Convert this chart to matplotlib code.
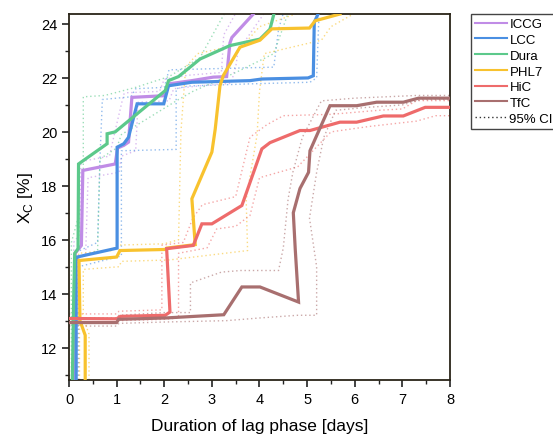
import matplotlib
matplotlib.use("Agg")
import matplotlib.pyplot as plt
from matplotlib.ticker import MultipleLocator
from matplotlib.lines import Line2D

plt.rcParams['font.family'] = ['Liberation Sans', 'DejaVu Sans']

# ---- enzyme curves: lag-phase duration [days] vs crystallinity X_C [%] ----
iccg_x = [0.13, 0.13, 0.26, 0.29, 0.97, 1.02, 1.15, 1.25, 1.32, 1.99, 2.09, 2.58, 3.03, 3.31, 3.38, 3.42, 3.87]
iccg_y = [10.8, 15.5, 15.79, 18.57, 18.81, 19.4, 19.5, 19.62, 21.28, 21.34, 21.78, 21.9, 22.03, 22.05, 23.3, 23.5, 24.37]
iccg_lo_x = [0.18, 0.18, 0.35, 0.40, 1.05, 1.10, 1.40, 1.45, 2.10, 2.20, 2.70, 3.40, 3.50, 3.55, 4.10]
iccg_lo_y = [10.8, 15.2, 15.5, 18.3, 18.5, 19.1, 19.3, 21.1, 21.15, 21.6, 21.7, 21.8, 22.4, 23.0, 24.4]
iccg_hi_x = [0.10, 0.10, 0.22, 0.25, 0.85, 0.95, 1.15, 1.20, 1.90, 2.00, 2.50, 3.20, 3.25, 3.50]
iccg_hi_y = [10.8, 15.9, 16.2, 18.9, 19.1, 19.9, 21.4, 21.45, 21.5, 21.95, 22.1, 22.2, 23.6, 24.4]

lcc_x = [0.15, 0.15, 0.17, 1.01, 1.01, 1.15, 1.25, 1.43, 1.99, 2.09, 2.58, 3.80, 4.05, 5.02, 5.13, 5.15, 5.23]
lcc_y = [10.8, 15.2, 15.36, 15.69, 19.43, 19.56, 19.8, 21.04, 21.04, 21.71, 21.84, 21.9, 21.96, 22.0, 22.08, 24.06, 24.37]
lcc_lo_x = [0.20, 0.20, 1.10, 1.10, 2.25, 2.25, 2.50, 3.80, 5.06, 5.20, 5.25]
lcc_lo_y = [10.8, 15.0, 15.4, 19.3, 19.35, 21.6, 21.7, 21.78, 21.84, 22.0, 24.4]
lcc_hi_x = [0.10, 0.10, 0.60, 0.65, 0.70, 1.30, 1.40, 2.00, 2.10, 4.30, 4.40, 4.50]
lcc_hi_y = [10.8, 15.5, 15.9, 19.0, 21.2, 21.3, 21.6, 21.65, 22.3, 22.4, 23.8, 24.4]

dura_x = [0.07, 0.10, 0.12, 0.19, 0.20, 0.80, 0.80, 0.97, 2.02, 2.09, 2.30, 2.75, 3.38, 4.01, 4.22, 4.33]
dura_y = [10.8, 14.0, 15.5, 15.67, 18.81, 19.56, 19.93, 20.0, 21.53, 21.9, 22.05, 22.7, 23.2, 23.44, 23.81, 24.56]
dura_lo_x = [0.12, 0.12, 0.60, 0.65, 1.00, 1.10, 2.30, 2.60, 3.50, 4.30, 4.60]
dura_lo_y = [10.8, 15.3, 15.6, 19.0, 19.4, 19.9, 21.2, 21.5, 22.2, 22.9, 24.4]
dura_hi_x = [0.05, 0.05, 0.30, 0.30, 0.75, 1.40, 2.10, 2.75, 3.30]
dura_hi_y = [10.8, 15.9, 17.5, 21.3, 21.35, 21.65, 22.05, 22.75, 24.5]

phl7_x = [0.34, 0.34, 0.23, 0.21, 1.00, 1.07, 2.02, 2.05, 2.65, 2.58, 3.00, 3.07, 3.17, 3.24, 3.59, 4.01, 4.26, 5.05, 5.17, 5.69]
phl7_y = [10.8, 12.46, 13.0, 15.23, 15.36, 15.6, 15.64, 15.69, 15.82, 17.52, 19.25, 20.1, 21.71, 22.09, 23.14, 23.4, 23.82, 23.85, 24.12, 24.37]
phl7_lo_x = [0.42, 0.42, 0.30, 0.30, 1.05, 1.10, 2.10, 3.75, 3.72, 3.95, 4.00, 4.10, 5.30, 5.50, 6.00]
phl7_lo_y = [10.8, 12.5, 13.1, 14.9, 15.0, 15.2, 15.25, 15.6, 17.5, 19.9, 21.5, 22.9, 23.4, 23.9, 24.4]
phl7_hi_x = [0.22, 0.22, 0.20, 0.90, 1.00, 2.00, 2.30, 2.35, 2.45, 2.70, 3.70, 4.00, 4.80]
phl7_hi_y = [10.8, 13.0, 15.5, 15.6, 15.8, 15.85, 16.0, 20.0, 22.4, 22.9, 23.3, 23.9, 24.4]

hic_x = [0.02, 1.00, 1.08, 2.02, 2.12, 2.05, 2.61, 2.79, 3.00, 3.63, 4.05, 4.22, 4.85, 5.06, 5.69, 6.04, 6.60, 7.02, 7.48, 8.00]
hic_y = [13.08, 13.07, 13.16, 13.2, 13.32, 15.67, 15.79, 16.59, 16.59, 17.27, 19.37, 19.6, 20.05, 20.05, 20.36, 20.36, 20.59, 20.59, 20.91, 20.91]
hic_lo_x = [0.0, 1.0, 1.05, 2.0, 2.3, 2.3, 2.9, 3.1, 3.5, 3.8, 4.0, 4.8, 5.5, 6.3, 7.3, 7.7, 8.0]
hic_lo_y = [12.9, 12.9, 13.0, 13.05, 13.1, 15.5, 15.7, 16.4, 16.5, 16.9, 18.3, 18.7, 20.0, 20.2, 20.4, 20.6, 20.6]
hic_hi_x = [0.0, 1.0, 1.05, 1.95, 1.95, 2.4, 2.6, 2.8, 3.5, 3.8, 4.15, 4.5, 5.5, 6.5, 7.0, 7.3, 8.0]
hic_hi_y = [13.25, 13.25, 13.35, 13.4, 15.8, 15.9, 16.8, 17.3, 17.6, 19.8, 20.26, 20.6, 20.65, 20.8, 20.85, 21.16, 21.16]

tfc_x = [0.02, 1.00, 1.04, 2.02, 3.25, 3.63, 4.01, 4.82, 4.75, 4.71, 4.85, 5.03, 5.06, 5.20, 5.48, 6.04, 6.46, 7.02, 7.34, 8.00]
tfc_y = [12.93, 12.93, 13.05, 13.1, 13.22, 14.25, 14.25, 13.69, 15.67, 17.0, 17.9, 18.5, 19.3, 19.86, 20.97, 20.97, 21.1, 21.1, 21.25, 21.25]
tfc_lo_x = [0.0, 1.0, 1.05, 2.0, 3.3, 4.0, 4.8, 5.2, 5.2, 5.05, 5.2, 5.35, 5.6, 6.2, 7.0, 7.4, 8.0]
tfc_lo_y = [12.8, 12.8, 12.9, 12.95, 13.0, 13.1, 13.2, 13.2, 15.0, 16.8, 18.5, 19.8, 20.8, 20.9, 21.0, 21.2, 21.2]
tfc_hi_x = [0.0, 1.0, 1.05, 2.0, 2.55, 2.55, 3.2, 3.6, 4.4, 4.5, 4.6, 4.7, 4.9, 5.3, 6.0, 7.3, 8.0]
tfc_hi_y = [13.1, 13.1, 13.2, 13.3, 13.3, 14.4, 14.8, 14.86, 14.86, 15.7, 17.5, 18.5, 19.8, 21.15, 21.25, 21.35, 21.35]

names = ["ICCG", "LCC", "Dura", "PHL7", "HiC", "TfC"]
colors = ["#C08CE6", "#4A8FE2", "#5CC98B", "#F8C22E", "#EE6B6B", "#A86F6F"]
series = [
    (iccg_x, iccg_y, iccg_lo_x, iccg_lo_y, iccg_hi_x, iccg_hi_y),
    (lcc_x, lcc_y, lcc_lo_x, lcc_lo_y, lcc_hi_x, lcc_hi_y),
    (dura_x, dura_y, dura_lo_x, dura_lo_y, dura_hi_x, dura_hi_y),
    (phl7_x, phl7_y, phl7_lo_x, phl7_lo_y, phl7_hi_x, phl7_hi_y),
    (hic_x, hic_y, hic_lo_x, hic_lo_y, hic_hi_x, hic_hi_y),
    (tfc_x, tfc_y, tfc_lo_x, tfc_lo_y, tfc_hi_x, tfc_hi_y),
]

fig = plt.figure(figsize=(5.53, 4.39), dpi=100)
ax = fig.add_axes([0.1248, 0.1321, 0.6889, 0.8337])

# confidence bands first, so the mean curves sit on top
for (x, y, lx, ly, hx, hy), c in zip(series, colors):
    ax.plot(lx, ly, ls=(0, (1, 2)), lw=1.0, color=c, alpha=0.6, zorder=2)
    ax.plot(hx, hy, ls=(0, (1, 2)), lw=1.0, color=c, alpha=0.6, zorder=2)
for (x, y, *_), c, n in zip(series, colors, names):
    ax.plot(x, y, lw=2.3, color=c, label=n, zorder=3, solid_joinstyle='miter')

ax.set_xlim(0, 8)
ax.set_ylim(10.8, 24.37)
ax.xaxis.set_major_locator(MultipleLocator(1))
ax.xaxis.set_minor_locator(MultipleLocator(0.5))
ax.yaxis.set_major_locator(MultipleLocator(2))
ax.yaxis.set_minor_locator(MultipleLocator(1))
ax.tick_params(which='major', direction='out', length=5, width=1.2, labelsize=10.5, color='#222222')
ax.tick_params(which='minor', direction='out', length=3, width=1.0, color='#222222')
for s in ax.spines.values():
    s.set_linewidth(1.3)
    s.set_color('#2a2418')

ax.set_xlabel("Duration of lag phase [days]", fontsize=12.5, labelpad=9)
ax.set_ylabel(r"X$_\mathregular{C}$ [%]", fontsize=12.5, labelpad=4)

handles = [Line2D([], [], color=c, lw=1.5) for c in colors]
handles.append(Line2D([], [], color='#333333', lw=1.0, ls=(0, (1, 2))))
labels = names + ["95% CI"]
fig.legend(handles, labels, loc='upper left', bbox_to_anchor=(0.852, 0.966),
           fontsize=9.5, frameon=True, fancybox=False, edgecolor='#444444',
           framealpha=1, handlelength=2.4, handletextpad=0.2, labelspacing=0.27,
           borderpad=0.3, borderaxespad=0)

fig.savefig("out.png", dpi=100)
